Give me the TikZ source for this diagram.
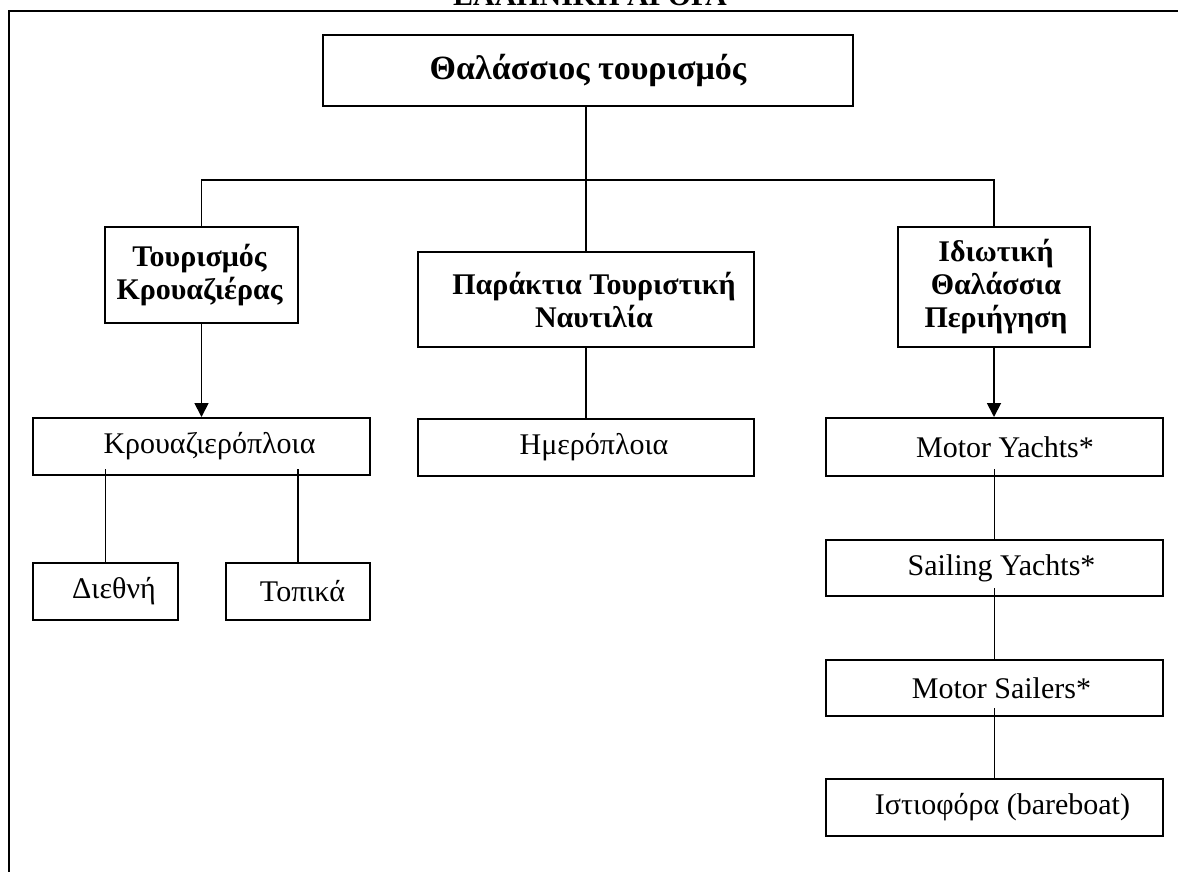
\documentclass[tikz,border=0pt]{standalone}
\usepackage{fontspec}
\setmainfont{Liberation Serif}
\usetikzlibrary{calc,arrows.meta}
\begin{document}
\begin{tikzpicture}[x=1pt,y=-1pt,
  font=\fontsize{30}{33}\selectfont,
  box/.style={draw,line width=2pt,fill=white,inner sep=0pt,align=center},
  head/.style={box,font=\fontsize{30}{33}\selectfont\bfseries},
  link/.style={line width=1.8pt},
  arr/.style={link,-{Triangle[length=14pt,width=14pt]}}]
\useasboundingbox (0,0) rectangle (1178,871);
% heading, cut by the page edge
\node[anchor=base,font=\fontsize{30}{33}\selectfont\bfseries] (hdr) at (590,5) {ΕΛΛΗΝΙΚΗ ΑΓΟΡΑ};
% outer frame
\coordinate (fTL) at (9,11);
\coordinate (fTR) at (1200,11);
\coordinate (fBL) at (9,890);
\draw[line width=2.4pt] (fBL) -- (fTL) -- (fTR);

% level 0
\node[head,font=\fontsize{34}{37}\selectfont\bfseries,minimum width=530pt,minimum height=71pt] (top) at (588,70.5) {Θαλάσσιος τουρισμός};
% level 1
\node[head,minimum width=193pt,minimum height=96pt] (kr) at (201.5,275) {\hspace*{-4pt}Τουρισμός\\\hspace*{-4pt}Κρουαζιέρας};
\node[head,minimum width=336pt,minimum height=95pt] (pt) at (586,299.5) {\hspace*{16pt}Παράκτια Τουριστική\\\hspace*{16pt}Ναυτιλία};
\node[head,minimum width=192pt,minimum height=120pt] (ik) at (994,287) {\hspace*{4pt}Ιδιωτική\\\hspace*{4pt}Θαλάσσια\\\hspace*{4pt}Περιήγηση};
% level 2
\node[box,minimum width=337pt,minimum height=57pt] (kp) at (201.5,446.5) {\hspace*{16pt}Κρουαζιερόπλοια};
\node[box,minimum width=336pt,minimum height=57pt] (hm) at (586,447.5) {\hspace*{16pt}Ημερόπλοια};
\node[box,minimum width=337pt,minimum height=58pt] (my) at (994,447) {\hspace*{22pt}Motor Yachts*};
% level 3
\node[box,minimum width=145pt,minimum height=57pt] (dn) at (105.5,591.5) {\hspace*{17pt}Διεθνή};
\node[box,minimum width=144pt,minimum height=57pt] (tp) at (298,591.5) {\hspace*{9pt}Τοπικά};
\node[box,minimum width=337pt,minimum height=56pt] (sy) at (994.5,568) {\hspace*{14pt}Sailing Yachts*};
\node[box,minimum width=337pt,minimum height=56pt] (ms) at (994.5,688) {\hspace*{14pt}Motor Sailers*};
\node[box,minimum width=337pt,minimum height=57pt] (ist) at (994.5,807.5) {\hspace*{16pt}Ιστιοφόρα (bareboat)};

% bus under the top box
\coordinate (bus) at (0,180);
\draw[link] (pt.north |- top.south) -- (pt.north |- bus);
\draw[link] (kr.north) -- (kr.north |- bus) -- (ik.north |- bus) -- (ik.north);
\draw[link] (pt.north) -- (pt.north |- bus);

% level 1 to level 2
\draw[arr] (kr.south) -- (kp.north);
\draw[link] (pt.south) -- (hm.north);
\draw[arr] (ik.south) -- (my.north);

% lower links start just inside the upper box
\draw[link] ($(dn.north |- kp.south)+(0,-7)$) -- (dn.north);
\draw[link] ($(tp.north |- kp.south)+(0,-7)$) -- (tp.north);
\draw[link] ($(sy.north |- my.south)+(0,-8)$) -- (sy.north);
\draw[link] ($(ms.north |- sy.south)+(0,-9)$) -- (ms.north);
\draw[link] ($(ist.north |- ms.south)+(0,-9)$) -- (ist.north);
\end{tikzpicture}
\end{document}
